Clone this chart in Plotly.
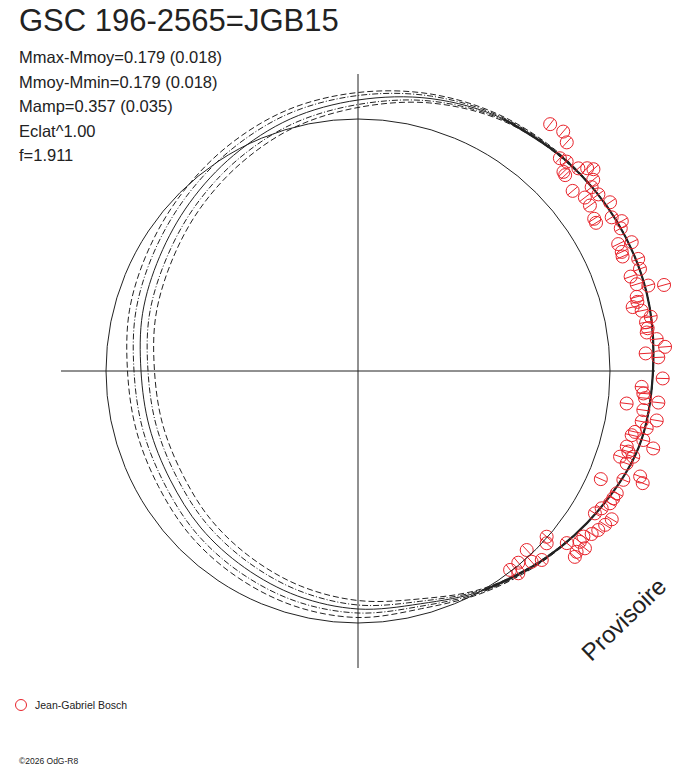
import math
import plotly.graph_objects as go

# Courbe ajustee (angle de phase en degres, rayon = eclat) + enveloppes
theta_fit = [0, 15, 30, 45, 60, 75, 90, 105, 120, 135, 150, 165,
             180, 195, 210, 225, 240, 255, 270, 285, 300, 315, 330, 345, 360]
r_fit = [295, 299, 299, 296, 291, 282, 271, 261, 249, 238, 229, 223,
         217, 216, 217, 222, 227, 233, 238, 241, 253, 265, 278, 291, 295]
r_out2 = [295, 299, 299, 297, 293, 286.5, 278.5, 270.5, 260, 250, 242, 236.5,
          230.5, 229.5, 230.5, 235, 239, 243.5, 246.5, 246, 255, 266, 278, 291, 295]
r_out1 = [295, 299, 299, 296.5, 292, 284.5, 275.5, 266.5, 255, 244.5, 236, 230,
          224, 223, 224, 229, 233.5, 238.5, 242, 243.5, 254, 265.5, 278, 291, 295]
r_in1 = [295, 299, 299, 295.5, 290, 279.5, 266.5, 255.5, 243, 231.5, 222, 216,
         210, 209, 210, 215, 220.5, 227.5, 234, 238.5, 252, 264.5, 278, 291, 295]
r_in2 = [295, 299, 299, 295, 289, 277.5, 263.5, 251.5, 238, 226, 216, 209.5,
         203.5, 202.5, 203.5, 209, 215, 222.5, 229.5, 236, 251, 264, 278, 291, 295]

r_moy = 252    # cercle de reference
r_axes = 297   # longueur des axes

# Observations Jean-Gabriel Bosch
obs_theta = [52.1, 49.4, 47.6, 46.5, 45.1, 44.1, 43.4, 42.6, 41.5, 40.6,
             39.1, 38.2, 40.0, 37.4, 35.5, 36.3, 33.8, 31.2, 32.8, 31.9,
             29.6, 28.5, 25.2, 26.0, 24.3, 23.4, 21.8, 19.9, 19.1, 17.3,
             16.4, 15.7, 14.9, 13.9, 13.1, 12.0, 10.5, 9.6, 8.4, 7.6,
             6.1, 4.5, 3.5, 2.6, -1.4, -3.2, -4.5, -5.4, -6.9, -6.0,
             -7.8, -10.1, -9.4, -12.4, -11.2, -13.2, -13.6, -14.7, -15.7, -18.1,
             -16.6, -17.3, -19.0, -20.5, -21.5, -24.0, -22.3, -25.3, -26.5, -27.7,
             -29.4, -31.0, -30.3, -31.9, -33.5, -34.9, -36.3, -37.6, -38.0, -39.6,
             -40.6, -41.3, -42.4, -39.5, -46.7, -47.7, -45.8, -50.1, -52.6, -51.6]
obs_r = [312.8, 315.3, 309.6, 293.3, 295.6, 286.1, 285.1, 299.4, 306.0, 310.1,
         303.1, 297.3, 280.2, 285.6, 284.9, 298.3, 303.3, 296.6, 281.0, 280.4,
         303.4, 299.0, 302.5, 289.5, 289.4, 288.3, 301.8, 299.9, 288.5, 291.9,
         302.6, 317.9, 288.4, 287.8, 282.0, 290.0, 297.7, 292.1, 292.8, 291.3,
         300.4, 308.0, 288.2, 300.6, 304.8, 284.1, 286.2, 288.3, 270.6, 302.0,
         288.0, 288.2, 302.8, 283.6, 294.3, 281.1, 293.5, 305.2, 279.2, 275.7,
         282.1, 288.3, 284.1, 301.2, 306.0, 265.8, 286.8, 286.2, 285.3, 284.6,
         279.7, 276.4, 293.9, 291.1, 288.1, 284.9, 279.7, 280.0, 288.0, 283.7,
         285.6, 251.1, 255.5, 270.6, 246.0, 257.9, 263.6, 249.9, 250.4, 258.1]
obs_err = 6.5

titre = "GSC 196-2565=JGB15"
stats = ["Mmax-Mmoy=0.179 (0.018)", "Mmoy-Mmin=0.179 (0.018)",
         "Mamp=0.357 (0.035)", "Eclat^1.00", "f=1.911"]
observateur = "Jean-Gabriel Bosch"

# la page html ajoute une marge de 8 px autour de la figure
W, H = 680, 760
OFF = 8
noir = "#222222"
rouge = "#e8242c"
cx, cy = 358 - OFF, 371 - OFF   # centre du diagramme dans la figure


def px(x):
    return (x - OFF) / W


def py(y):
    return 1 - (y - OFF) / H


def vers_xy(thetas, rayons):
    xs, ys = [], []
    for t, r in zip(thetas, rayons):
        a = math.radians(t)
        xs.append(r * math.cos(a))
        ys.append(r * math.sin(a))
    return xs, ys


fig = go.Figure()

# axes en croix et cercle de reference
fig.add_shape(type="line", x0=-r_axes, x1=r_axes, y0=0, y1=0, line=dict(color=noir, width=1))
fig.add_shape(type="line", x0=0, x1=0, y0=-r_axes, y1=r_axes, line=dict(color=noir, width=1))
fig.add_shape(type="circle", x0=-r_moy, x1=r_moy, y0=-r_moy, y1=r_moy,
              line=dict(color=noir, width=1))

# enveloppes en tirets
for r_env, dash in [(r_out2, "6px,3px"), (r_out1, "6px,2px,1px,2px"),
                    (r_in1, "6px,2px,1px,2px"), (r_in2, "6px,3px")]:
    x, y = vers_xy(theta_fit, r_env)
    fig.add_trace(go.Scatter(x=x, y=y, mode="lines", hoverinfo="skip",
                             line=dict(color=noir, width=1, dash=dash, shape="spline")))

# courbe ajustee
x, y = vers_xy(theta_fit, r_fit)
fig.add_trace(go.Scatter(x=x, y=y, mode="lines", hoverinfo="skip",
                         line=dict(color=noir, width=1, shape="spline")))

# partie couverte par les mesures (trait epais)
idx = [i for i, t in enumerate(theta_fit[:-1]) if t <= 60 or t >= 300]
idx = sorted(idx, key=lambda i: theta_fit[i] if theta_fit[i] <= 60 else theta_fit[i] - 360)
x, y = vers_xy([theta_fit[i] for i in idx], [r_fit[i] for i in idx])
fig.add_trace(go.Scatter(x=x, y=y, mode="lines", hoverinfo="skip",
                         line=dict(color=noir, width=2.2, shape="spline")))

# barres d'erreur radiales
ex, ey = [], []
for t, r in zip(obs_theta, obs_r):
    xs, ys = vers_xy([t, t], [r - obs_err, r + obs_err])
    ex += xs + [None]
    ey += ys + [None]
fig.add_trace(go.Scatter(x=ex, y=ey, mode="lines", hoverinfo="skip",
                         line=dict(color=rouge, width=1)))

# mesures
x, y = vers_xy(obs_theta, obs_r)
fig.add_trace(go.Scatter(x=x, y=y, mode="markers", name=observateur,
                         marker=dict(symbol="circle-open", size=13, color=rouge,
                                     line=dict(width=1))))

fig.update_layout(
    width=W, height=H,
    margin=dict(l=0, r=0, t=0, b=0),
    paper_bgcolor="white",
    plot_bgcolor="white",
    showlegend=False,
    font=dict(family="Arial, Liberation Sans, sans-serif", color=noir),
    xaxis=dict(range=[-cx, W - cx], visible=False, showgrid=False, zeroline=False),
    yaxis=dict(range=[cy - H, cy], visible=False, showgrid=False, zeroline=False),
)

fig.add_annotation(text=titre, x=px(17), y=py(21), xref="paper", yref="paper",
                   xanchor="left", yanchor="middle", showarrow=False,
                   font=dict(size=31, color=noir))
for i, s in enumerate(stats):
    fig.add_annotation(text=s, x=px(17), y=py(57 + 24.5 * i), xref="paper", yref="paper",
                       xanchor="left", yanchor="middle", showarrow=False,
                       font=dict(size=16.5, color=noir))

fig.add_annotation(text="Provisoire", x=px(623), y=py(619), xref="paper", yref="paper",
                   xanchor="center", yanchor="middle",
                   textangle=-44, showarrow=False, font=dict(size=24, color=noir))

# legende
fig.add_shape(type="circle", xref="paper", yref="paper", xsizemode="pixel", ysizemode="pixel",
              xanchor=px(21), yanchor=py(705), x0=-5.5, x1=5.5, y0=-5.5, y1=5.5,
              line=dict(color=rouge, width=1))
fig.add_annotation(text=observateur, x=px(33), y=py(705), xref="paper", yref="paper",
                   xanchor="left", yanchor="middle", showarrow=False,
                   font=dict(size=10.5, color=noir))
fig.add_annotation(text="©2026 OdG-R8", x=px(17), y=py(761), xref="paper", yref="paper",
                   xanchor="left", yanchor="middle", showarrow=False,
                   font=dict(size=8.5, color=noir))

fig.write_html("out.html")
